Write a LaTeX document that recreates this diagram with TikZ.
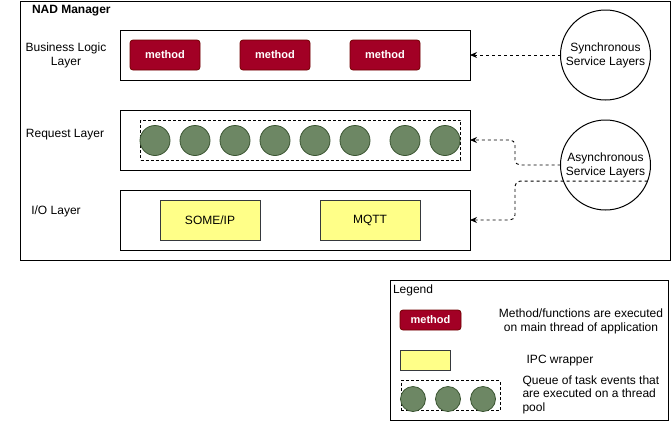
\documentclass[tikz,border=0pt]{standalone}
\usepackage{fontspec}
\setmainfont{Liberation Sans}
\usetikzlibrary{arrows.meta}
\definecolor{mred}{HTML}{A20025}
\definecolor{mredline}{HTML}{6F0000}
\definecolor{qgreen}{HTML}{6D8764}
\definecolor{qgreenline}{HTML}{3A5431}
\definecolor{ipcy}{HTML}{FFFF88}
\definecolor{ipcline}{HTML}{36393D}
\tikzset{
  x=1pt, y=-1pt,
  every node/.style={inner sep=0pt, outer sep=0pt, font=\fontsize{12}{14}\selectfont},
  layerbox/.style={draw=black, line width=1pt, minimum width=350pt},
  methodbox/.style={draw=mredline, fill=mred, rounded corners=3pt, line width=0.8pt, text=white, font=\fontsize{11}{13}\selectfont\bfseries},
  ipcbox/.style={draw=ipcline, fill=ipcy, line width=0.8pt, minimum width=100pt, minimum height=40pt},
  qcircle/.style={circle, draw=qgreenline, fill=qgreen, line width=0.8pt, minimum size=30pt},
  qsmall/.style={circle, draw=qgreenline, fill=qgreen, line width=0.8pt, minimum size=25pt},
  qframe/.style={draw=black, dash pattern=on 3pt off 2pt, line width=0.8pt},
  svc/.style={circle, draw=black, line width=1pt, minimum size=90pt, align=center},
  arr/.style={-{Stealth[length=7pt,width=6pt]}, dash pattern=on 3pt off 3pt, line width=0.9pt, rounded corners=5pt},
  lbl/.style={align=center, font=\fontsize{12}{14}\selectfont},
}
\begin{document}
\begin{tikzpicture}
\useasboundingbox (0,0) rectangle (671,421);
% outer box
\node[draw=black, line width=1pt, minimum width=650pt, minimum height=259pt] (nad) at (345,130.5) {};
\node[anchor=west, font=\fontsize{12}{14}\selectfont\bfseries] (nadt) at (32,11) {NAD Manager};

% layers
\node[layerbox, minimum height=50pt] (bl) at (295,55) {};
\node[layerbox, minimum height=60pt] (req) at (295,140) {};
\node[layerbox, minimum height=60pt] (io) at (295,220) {};

\node[lbl] (blt) at (66,55) {Business Logic\\Layer};
\node[lbl] (reqt) at (65,135) {Request Layer};
\node[lbl] (iot) at (56,211) {I/O Layer};

% methods
\node[methodbox, minimum width=70pt, minimum height=30pt] (m1) at (165,55) {method};
\node[methodbox, minimum width=70pt, minimum height=30pt] (m2) at (275,55) {method};
\node[methodbox, minimum width=70pt, minimum height=30pt] (m3) at (385,55) {method};

% queue
\node[qframe, minimum width=320pt, minimum height=40pt] (qf) at (300.5,140) {};
\foreach \i/\xx in {1/155,2/195,3/235,4/275,5/315,6/355,7/405,8/445}{
  \node[qcircle] (q\i) at (\xx,140.5) {};
}

% IPC
\node[ipcbox] (someip) at (210,220) {SOME/IP};
\node[ipcbox] (mqtt) at (370,220) {MQTT};

% service circles
\node[svc] (sync) at (605.5,55) {Synchronous\\Service Layers};
\node[svc] (async) at (605.5,165) {Asynchronous\\Service Layers};

% connectors
\coordinate (kx) at (515,0);
\draw[arr] (sync.west) -- (bl.east);
\draw[arr] (async.west) -- (async.west -| kx) -- (kx |- req.east) -- (req.east);
\draw[arr] (async.-21.8) -- (async.-21.8 -| kx) -- (kx |- io.east) -- (io.east);

% legend
\node[draw=black, line width=1pt, minimum width=278pt, minimum height=140pt] (leg) at (529,350) {};
\node[anchor=west] (legt) at (393,290.5) {Legend};
\node[methodbox, minimum width=61pt, minimum height=20pt] (lm) at (430.5,320) {method};
\node[align=center, font=\fontsize{12}{14}\selectfont] (lmt) at (581,321) {Method/functions are executed\\on main thread of application};
\node[ipcbox, minimum width=50pt, minimum height=20pt] (ly) at (425.5,360.5) {};
\node (lyt) at (560,361) {IPC wrapper};
\node[qframe, minimum width=99pt, minimum height=30pt] (lq) at (450.5,395.5) {};
\node[qsmall] (lq1) at (413,399) {};
\node[qsmall] (lq2) at (448,399) {};
\node[qsmall] (lq3) at (483,399) {};
\node[align=left, anchor=north west, font=\fontsize{12}{13.6}\selectfont] (lqt) at (522.5,375.5) {Queue of task events that\\are executed on a thread\\pool};
\end{tikzpicture}
\end{document}
